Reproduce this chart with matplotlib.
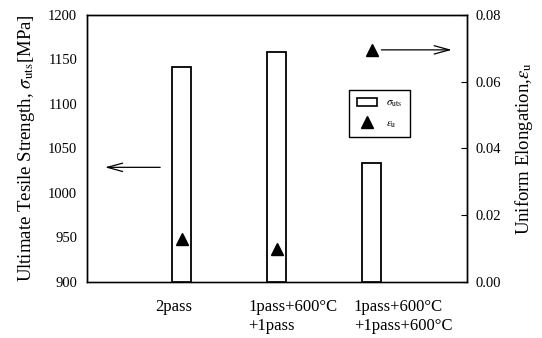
import matplotlib
matplotlib.use("Agg")
import matplotlib.pyplot as plt
from matplotlib.lines import Line2D
from matplotlib.patches import Patch
from matplotlib.transforms import blended_transform_factory

plt.rcParams['font.family'] = ['Liberation Serif', 'DejaVu Serif']
plt.rcParams['mathtext.fontset'] = 'stix'

# === Datos ===
condiciones = ["2pass", "1pass+600°C\n+1pass", "1pass+600°C\n+1pass+600°C"]
posiciones = [1, 2, 3]
uts = [1141, 1158, 1033]          # MPa
elong = [0.0128, 0.0099, 0.0694]  # uniform elongation

fig = plt.figure(figsize=(5.42, 3.38), dpi=100)
ax = fig.add_axes([0.1605, 0.167, 0.701, 0.789])
ax2 = ax.twinx()

# barras (eje izquierdo)
ax.bar(posiciones, [u - 900 for u in uts], bottom=900, width=0.2,
       facecolor='white', edgecolor='black', linewidth=1.3, zorder=2)
ax.set_xlim(0, 4)
ax.set_ylim(900, 1200)
ax.set_yticks([900, 950, 1000, 1050, 1100, 1150, 1200])
ax.tick_params(axis='y', length=0, labelsize=10.5, pad=7)
ax.set_xticks(posiciones)
ax.set_xticklabels([])
ax.tick_params(axis='x', direction='in', length=3, width=0.8)
ax.set_ylabel(r"Ultimate Tesile Strength, $\sigma_\mathrm{uts}$[MPa]", fontsize=13.5, labelpad=8)

# triangulos (eje derecho)
ax2.plot(posiciones, elong, linestyle='none', marker='^', color='black', markersize=8, zorder=3)
ax2.set_ylim(0, 0.08)
ax2.set_yticks([0, 0.02, 0.04, 0.06, 0.08])
ax2.set_yticklabels(["0.00", "0.02", "0.04", "0.06", "0.08"])
ax2.tick_params(axis='y', direction='in', length=4, labelsize=10.5, pad=6)
ax2.set_ylabel(r"Uniform Elongation,$\varepsilon_\mathrm{u}$", fontsize=13.5, labelpad=9)

for a in (ax, ax2):
    for s in a.spines.values():
        s.set_linewidth(1.0)
ax.spines['bottom'].set_color('#555555')

# etiquetas de categorias
trans = blended_transform_factory(ax.transData, ax.transAxes)
x_etiquetas = [0.716, 1.695, 2.81]
for xe, txt in zip(x_etiquetas, condiciones):
    ax.text(xe, -0.065, txt, transform=trans, ha='left', va='top',
            fontsize=12, linespacing=1.25)

# flechas
ax.annotate("", xy=(0.16, 1028.5), xytext=(0.8, 1028.5),
            arrowprops=dict(arrowstyle='->,head_length=1.1,head_width=0.3', color='black', lw=0.9))
ax2.annotate("", xy=(3.87, 0.0695), xytext=(3.07, 0.0695),
             arrowprops=dict(arrowstyle='->,head_length=1.1,head_width=0.3', color='black', lw=0.9))

# leyenda
handles = [Patch(facecolor='white', edgecolor='black', linewidth=1.2),
           Line2D([], [], linestyle='none', marker='^', color='black', markersize=8)]
leg = ax2.legend(handles, [r"$\sigma_\mathrm{uts}$", r"$\varepsilon_\mathrm{u}$"],
                 loc='upper left', bbox_to_anchor=(0.675, 0.74), fontsize=8,
                 frameon=True, fancybox=False, edgecolor='black', framealpha=1,
                 handlelength=1.8, handleheight=0.8, borderpad=0.7, labelspacing=0.8)
leg.get_frame().set_linewidth(1.0)

fig.savefig("out.png", dpi=100)
